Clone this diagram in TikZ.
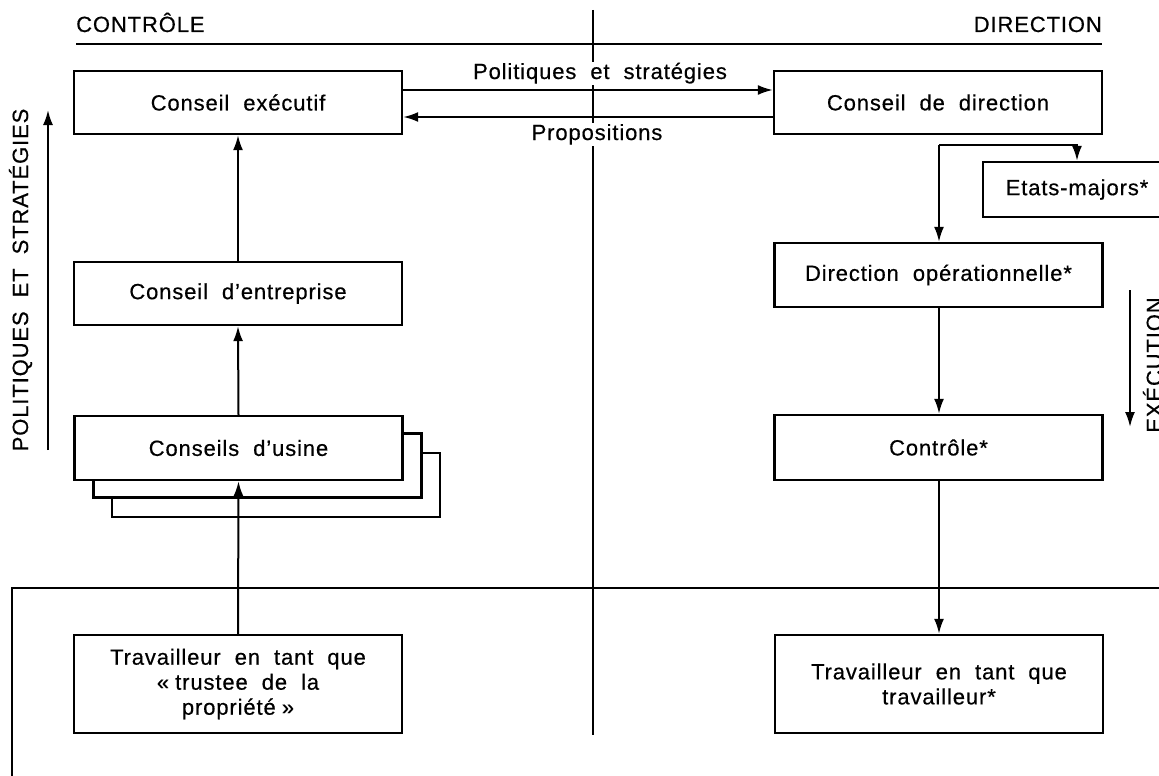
\documentclass[tikz,border=0pt]{standalone}
\usepackage{fontspec}
\setmainfont{Liberation Sans}[LetterSpace=4,WordSpace=2,FakeBold=0.5]
\usetikzlibrary{arrows.meta}
\begin{document}
\begin{tikzpicture}[x=1pt,y=-1pt,
  box/.style={draw,line width=2.4pt,fill=white,minimum width=328pt,minimum height=63pt,inner sep=0pt,align=center,font=\fontsize{22}{25}\selectfont},
  conn/.style={line width=2pt},
  arr/.style={line width=2pt,-{Latex[length=15pt,width=10pt]}},
  lab/.style={font=\fontsize{22}{25}\selectfont,inner sep=1pt},
  head/.style={font=\fontsize{22}{26}\selectfont,inner sep=0pt}]
\useasboundingbox (0,0) rectangle (1159,776);
% center divider and frame
\draw[conn] (593,10) -- (593,735);
\draw[conn] (1175,588) -- (12,588) -- (12,785);
% headers
\node[head,anchor=base west] (hctl) at (76,32) {CONTRÔLE};
\node[head,anchor=base east] (hdir) at (1102,32) {DIRECTION};
\draw[conn] (76,44) -- (1102,44);
% labels on the divider
\node[lab,fill=white,anchor=base] (lps) at (600,79) {Politiques et stratégies};
\node[lab,fill=white,anchor=base] (lpr) at (597,140) {Propositions};
% left column
\node[box] (ce) at (238,102.5) {Conseil exécutif};
\node[box] (cent) at (238,293.5) {Conseil d’entreprise};
\node[box,minimum height=64pt] (cu3) at (276,485) {};
\node[box,minimum height=64pt] (cu2) at (257.5,465.5) {};
\node[box,minimum height=64pt] (cu) at (238.5,448) {Conseils d’usine};
\node[box,minimum height=98pt] (tw1) at (238,684) {Travailleur en tant que\\«\;trustee de la\\propriété\;»};
% right column
\node[box] (cd) at (938,102.5) {Conseil de direction};
\node[box,minimum width=188pt,minimum height=55pt] (em) at (1077,189.5) {Etats-majors*};
\node[box,minimum height=64pt] (dop) at (938.5,275) {Direction opérationnelle*};
\node[box,minimum height=65pt] (ctl) at (938.5,447.5) {Contrôle*};
\node[box,minimum height=98pt] (tw2) at (939,684) {Travailleur en tant que\\travailleur*};
% connectors
\draw[arr] ([yshift=12.5pt]ce.east) -- ([yshift=12.5pt]cd.west);
\draw[arr] ([yshift=-14.5pt]cd.west) -- ([yshift=-14.5pt]ce.east);
\draw[arr] (cent.north) -- (ce.south);
\draw[arr] (cu.north) -- (cent.south);
\draw[arr] (tw1.north) -- (cu.south);
\coordinate (sp) at (939,145);
\draw[arr] (sp) -- (sp |- dop.north);
\draw[arr] (sp) -| (em.north);
\draw[arr] (sp |- dop.south) -- (sp |- ctl.north);
\draw[arr] (sp |- ctl.south) -- (sp |- tw2.north);
% side labels
\coordinate (pb) at (48,450);
\coordinate (pt) at (48,110);
\draw[arr] (pb) -- (pt);
\node[head,rotate=90,anchor=base] (lpol) at (28,280) {POLITIQUES ET STRATÉGIES};
\coordinate (eb) at (1130,290);
\coordinate (et) at (1130,427);
\draw[arr] (eb) -- (et);
\node[head,rotate=90,anchor=base] (lexe) at (1162,365) {EXÉCUTION};
\end{tikzpicture}
\end{document}
